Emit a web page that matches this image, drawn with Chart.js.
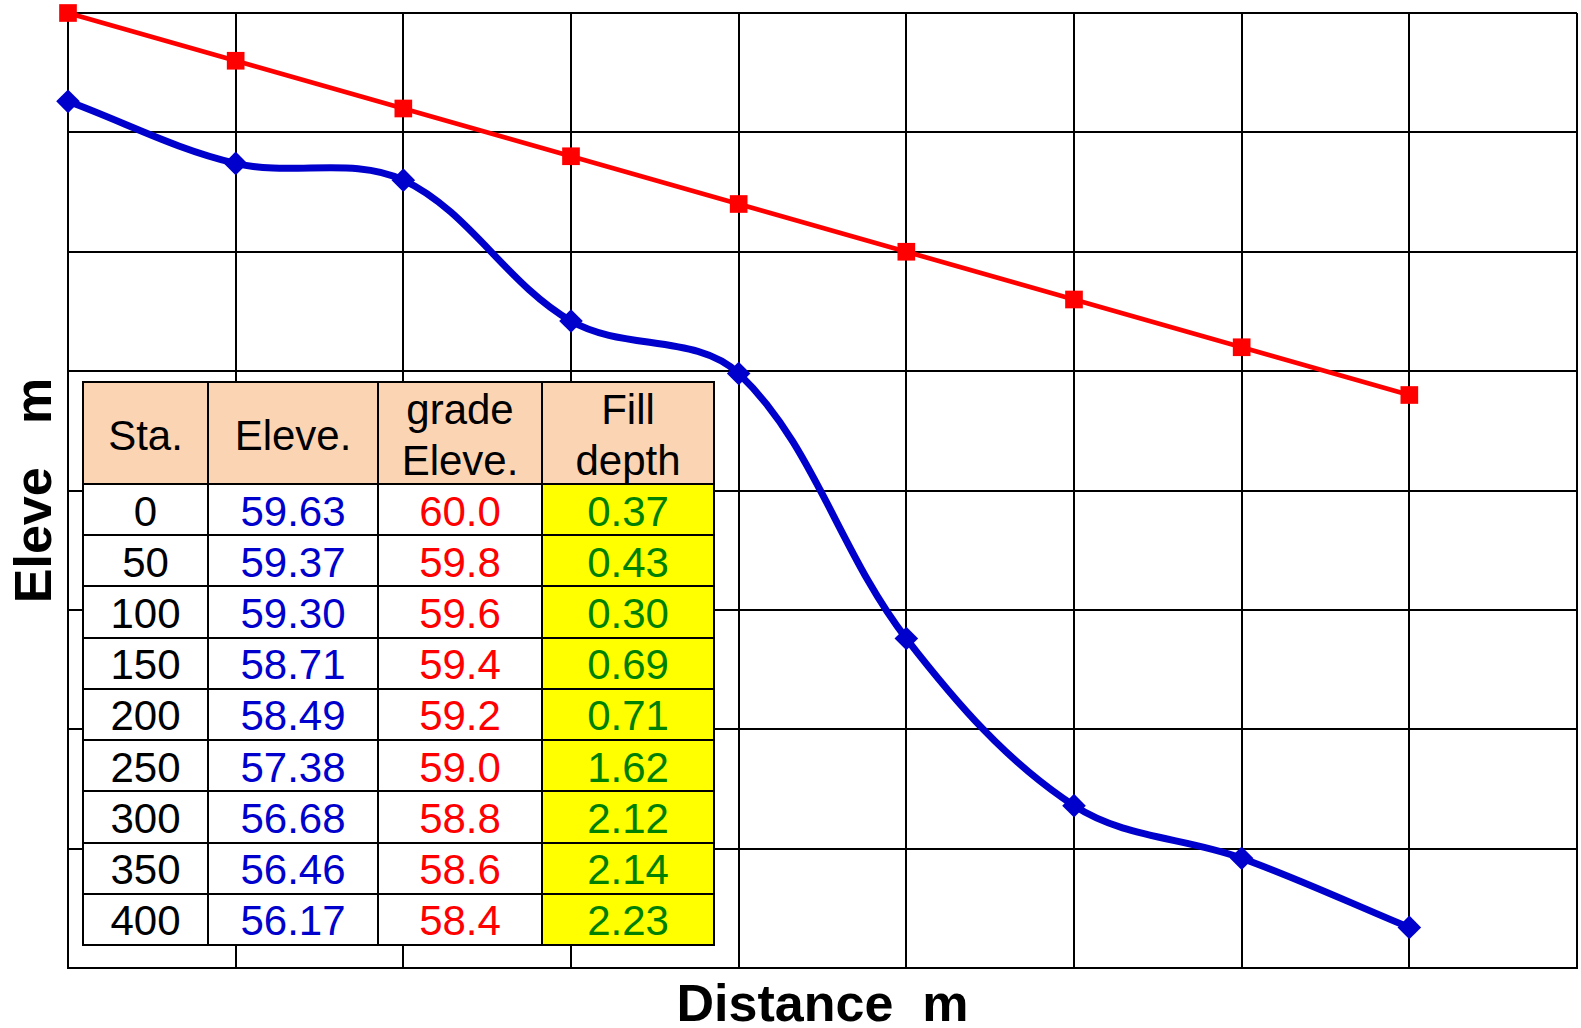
<!DOCTYPE html>
<html>
<head>
<meta charset="utf-8">
<script src="https://cdn.jsdelivr.net/npm/chart.js@4.4.0/dist/chart.umd.min.js"></script>
<style>
  html, body { margin: 0; padding: 0; background: #fff; }
  #wrap { position: relative; width: 1581px; height: 1028px; overflow: hidden; }
  #c { position: absolute; left: 0; top: 0; }
  #tbl {
    position: absolute; left: 82px; top: 381px; width: 633px; height: 565px;
    box-sizing: border-box; padding: 2px; background: #000;
    display: grid; gap: 2px;
    grid-template-columns: 123px 168px 162px 170px;
    grid-template-rows: 100px repeat(9, minmax(0, 1fr));
    font-family: "Liberation Sans", Arial, sans-serif; font-size: 42px;
  }
  #tbl div {
    background: #fff; display: flex; align-items: center; justify-content: center;
    text-align: center; line-height: 1; overflow: hidden; padding-top: 4px; box-sizing: border-box;
  }
  #tbl div.h { background: #FBD4B4; color: #000; line-height: 51px; padding-top: 4px; }
  #tbl div.s { color: #000; }
  #tbl div.g { color: #0000CC; }
  #tbl div.r { color: #FF0000; }
  #tbl div.f { color: #008000; background: #FFFF00; }
</style>
</head>
<body>
<div id="wrap">
  <canvas id="c" width="1581" height="1028"></canvas>
  <div id="tbl"></div>
</div>
<script>
// ---- Data ----
const stations   = [0, 50, 100, 150, 200, 250, 300, 350, 400];
const groundElev = [59.63, 59.37, 59.30, 58.71, 58.49, 57.38, 56.68, 56.46, 56.17];
const gradeElev  = [60.0, 59.8, 59.6, 59.4, 59.2, 59.0, 58.8, 58.6, 58.4];
const fillDepth  = [0.37, 0.43, 0.30, 0.69, 0.71, 1.62, 2.12, 2.14, 2.23];
const tableHeaders = ["Sta.", "Eleve.", "grade<br>Eleve.", "Fill<br>depth"];
const xTitle = "Distance  m";
const yTitle = "Eleve   m";

// ---- Table ----
const tbl = document.getElementById('tbl');
tableHeaders.forEach(h => {
  const d = document.createElement('div'); d.className = 'h'; d.innerHTML = h; tbl.appendChild(d);
});
stations.forEach((s, i) => {
  const cells = [
    ['s', String(s)],
    ['g', groundElev[i].toFixed(2)],
    ['r', gradeElev[i].toFixed(1)],
    ['f', fillDepth[i].toFixed(2)]
  ];
  cells.forEach(([cls, txt]) => {
    const d = document.createElement('div'); d.className = cls; d.textContent = txt; tbl.appendChild(d);
  });
});

// ---- Chart ----
const font = "'Liberation Sans', Arial, sans-serif";
new Chart(document.getElementById('c'), {
  type: 'line',
  data: {
    datasets: [
      {
        label: 'Grade elevation',
        data: stations.map((s, i) => ({x: s, y: gradeElev[i]})),
        borderColor: '#FF0000', backgroundColor: '#FF0000',
        borderWidth: 4.5, tension: 0,
        pointStyle: 'rect', pointRadius: 12.5, pointBorderWidth: 0,
        pointBackgroundColor: '#FF0000', clip: false
      },
      {
        label: 'Ground elevation',
        data: stations.map((s, i) => ({x: s, y: groundElev[i]})),
        borderColor: '#0000CC', backgroundColor: '#0000CC',
        borderWidth: 7, tension: 0.35,
        pointStyle: 'rectRot', pointRadius: 11.8, pointBorderWidth: 0,
        pointBackgroundColor: '#0000CC', clip: false
      }
    ]
  },
  options: {
    responsive: false, animation: false,
    layout: { autoPadding: false, padding: { top: 13, right: 4, left: 0, bottom: 0 } },
    plugins: { legend: { display: false }, tooltip: { enabled: false } },
    scales: {
      x: {
        type: 'linear', min: 0, max: 450,
        ticks: { display: false, stepSize: 50 },
        grid: { color: '#000', lineWidth: 2, drawTicks: false },
        border: { color: '#000', width: 2 },
        title: { display: true, text: xTitle, color: '#000',
          font: { family: font, size: 52, weight: 'bold', lineHeight: 0.82 },
          padding: { top: 0, bottom: 0 } },
        afterFit: s => { s.height = 60; }
      },
      y: {
        min: 56, max: 60,
        ticks: { display: false, stepSize: 0.5 },
        grid: { color: '#000', lineWidth: 2, drawTicks: false },
        border: { color: '#000', width: 2 },
        title: { display: true, text: yTitle, color: '#000',
          font: { family: font, size: 52, weight: 'bold', lineHeight: 1 },
          padding: { top: 11, bottom: 0 } },
        afterFit: s => { s.width = 68; }
      }
    }
  }
});
</script>
</body>
</html>
